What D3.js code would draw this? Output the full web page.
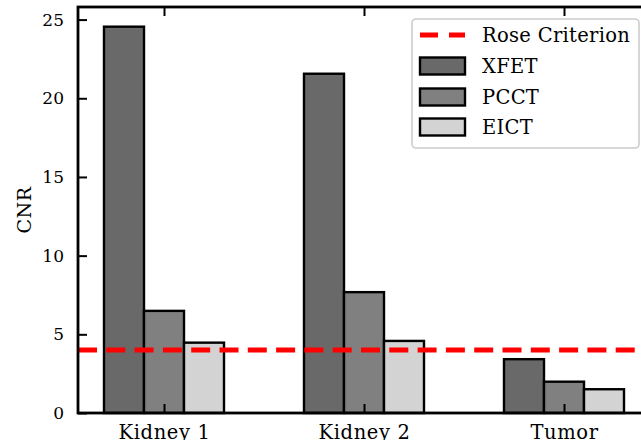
<!DOCTYPE html>
<html><head><meta charset="utf-8">
<script src="https://cdn.jsdelivr.net/npm/d3@7"></script>
<style>
html,body{margin:0;padding:0;background:#fff;overflow:hidden}
svg text{fill:#000}
</style></head>
<body><svg id="c" width="641" height="440"></svg>
<script>
const categories = ["Kidney 1", "Kidney 2", "Tumor"];
const seriesNames = ["XFET", "PCCT", "EICT"];
const xfet = [24.55, 21.56, 3.42];
const pcct = [6.49, 7.68, 1.99];
const eict = [4.47, 4.58, 1.51];
const roseCriterion = 4;
const yTicks = [0, 5, 10, 15, 20, 25];
const seriesColors = ["#696969", "#808080", "#d3d3d3"];
const seriesValues = [xfet, pcct, eict];

const svg = d3.select("#c");
const x = d3.scaleLinear().domain([-0.43, 2.43]).range([78, 650]);
const y = d3.scaleLinear().domain([0, 25.8]).range([413, 7]);
const barW = 0.2;
const offsets = [-0.2, 0, 0.2];
const SERIF = "DejaVu Serif";

// bars
seriesValues.forEach((vals, si) => {
  svg.append("g").selectAll("rect").data(vals).join("rect")
    .attr("x", (d, i) => x(i + offsets[si] - barW / 2))
    .attr("width", x(barW) - x(0))
    .attr("y", d => y(d))
    .attr("height", d => y(0) - y(d))
    .attr("fill", seriesColors[si])
    .attr("stroke", "#000").attr("stroke-width", 2.4);
});

// rose criterion line
svg.append("line")
  .attr("x1", x(-0.43)).attr("x2", x(2.43))
  .attr("y1", y(roseCriterion)).attr("y2", y(roseCriterion))
  .attr("stroke", "#ff0000").attr("stroke-width", 5)
  .attr("stroke-dasharray", "19,9.3");

// axes
const tickLen = 9;
const gL = svg.append("g").attr("transform", `translate(${x(-0.43)},0)`)
  .call(d3.axisLeft(y).tickValues(yTicks).tickSize(-tickLen).tickPadding(14).tickFormat(d3.format("d")));
const gR = svg.append("g").attr("transform", `translate(${x(2.43)},0)`)
  .call(d3.axisRight(y).tickValues(yTicks).tickSize(-tickLen).tickFormat(""));
const gB = svg.append("g").attr("transform", `translate(0,${y(0)})`)
  .call(d3.axisBottom(x).tickValues([0, 1, 2]).tickSize(-tickLen).tickPadding(12).tickFormat(i => categories[i]));
const gT = svg.append("g").attr("transform", `translate(0,${y(25.8)})`)
  .call(d3.axisTop(x).tickValues([0, 1, 2]).tickSize(-tickLen).tickFormat(""));
[gL, gR, gB, gT].forEach(g => {
  g.attr("font-family", SERIF);
  g.select(".domain").remove();
  g.selectAll(".tick line").attr("stroke", "#000").attr("stroke-width", 2);
  g.selectAll("text").attr("font-size", 17).style("font-family", SERIF);
});
gB.selectAll("text").attr("font-size", 19.5).attr("letter-spacing", 0.6);

// spines
svg.append("rect")
  .attr("x", x(-0.43)).attr("y", y(25.8))
  .attr("width", x(2.43) - x(-0.43)).attr("height", y(0) - y(25.8))
  .attr("fill", "none").attr("stroke", "#000").attr("stroke-width", 2.8);

// y label
svg.append("text").attr("transform", `translate(31,${(y(0) + y(25.8)) / 2}) rotate(-90)`)
  .attr("text-anchor", "middle").attr("font-size", 19).attr("letter-spacing", 0.5)
  .style("font-family", SERIF).text("CNR");

// legend
const lg = svg.append("g");
lg.append("rect").attr("x", 412).attr("y", 19).attr("width", 227).attr("height", 129)
  .attr("rx", 4).attr("fill", "#fff").attr("fill-opacity", 0.85)
  .attr("stroke", "#cccccc").attr("stroke-width", 1.6);
const legendItems = ["Rose Criterion"].concat(seriesNames);
const rowY = [35, 66, 97, 127];
legendItems.forEach((name, i) => {
  const cy = rowY[i];
  if (i === 0) {
    lg.append("line").attr("x1", 420).attr("x2", 465).attr("y1", cy).attr("y2", cy)
      .attr("stroke", "#ff0000").attr("stroke-width", 5).attr("stroke-dasharray", "18,11");
  } else {
    lg.append("rect").attr("x", 420).attr("y", cy - 8.5).attr("width", 45).attr("height", 17)
      .attr("fill", seriesColors[i - 1]).attr("stroke", "#000").attr("stroke-width", 2.4);
  }
  lg.append("text").attr("x", 482).attr("y", cy).attr("dy", "0.35em")
    .attr("font-size", 19.5).attr("letter-spacing", 0.3).style("font-family", SERIF).text(name);
});
</script></body></html>
